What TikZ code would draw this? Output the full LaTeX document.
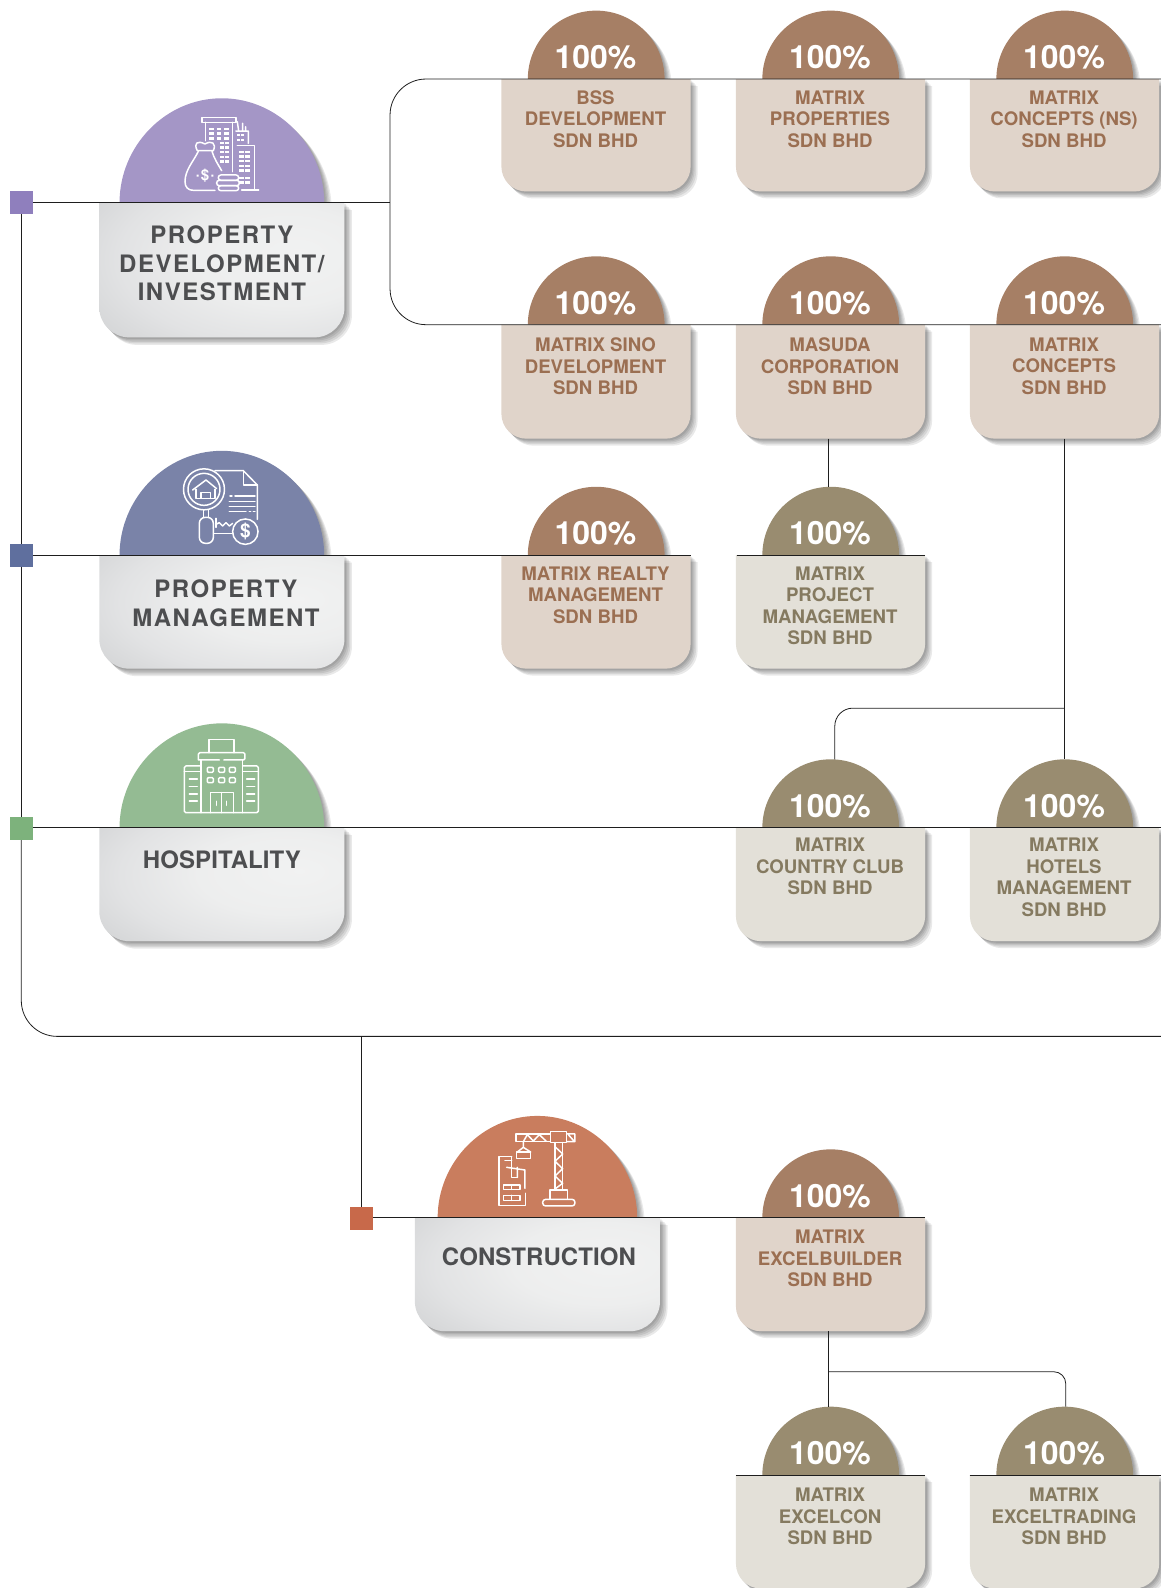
\documentclass[tikz,border=0pt]{standalone}
\usepackage{fontspec}
\setmainfont{TeX Gyre Heros}
\newfontfamily\trackwide[LetterSpace=6.3]{TeX Gyre Heros}
\newfontfamily\tracknarrow[LetterSpace=0.4]{TeX Gyre Heros}
\usetikzlibrary{calc}
\definecolor{domeBrown}{HTML}{A67F65}
\definecolor{domeOlive}{HTML}{998C70}
\definecolor{boxBrown}{HTML}{E0D4CA}
\definecolor{boxOlive}{HTML}{E3E0D8}
\definecolor{txtBrown}{HTML}{9B6F52}
\definecolor{txtOlive}{HTML}{857A60}
\definecolor{domePurple}{HTML}{A496C6}
\definecolor{domeSlate}{HTML}{7A83A8}
\definecolor{domeGreen}{HTML}{94BB93}
\definecolor{domeOrange}{HTML}{C97D5E}
\definecolor{sqPurple}{HTML}{8F7FBD}
\definecolor{sqSlate}{HTML}{5F6F9E}
\definecolor{sqGreen}{HTML}{7DB27C}
\definecolor{sqOrange}{HTML}{C8694A}
\definecolor{bigText}{HTML}{4D4E50}
\definecolor{lineCol}{HTML}{1E1E1E}
\pgfdeclareradialshading{cardshade}{\pgfpoint{16bp}{6bp}}{rgb(0bp)=(0.945,0.948,0.948); rgb(18bp)=(0.93,0.933,0.933); rgb(32bp)=(0.885,0.888,0.893); rgb(44bp)=(0.825,0.83,0.835); rgb(52bp)=(0.80,0.805,0.815); rgb(100bp)=(0.80,0.805,0.815)}
\tikzset{
  conn/.style={draw=lineCol,line width=0.8pt},
  sqnode/.style={minimum size=23pt,inner sep=0pt,outer sep=0pt,draw=none},
  cardtext/.style={anchor=north,align=center,inner sep=0pt,font=\bfseries\fontsize{18.65}{21.4}\selectfont},
  pct/.style={anchor=base,inner sep=0pt,text=white,font=\bfseries\fontsize{32}{32}\selectfont},
  bigtext/.style={anchor=north,align=center,inner sep=0pt,text=bigText},
  bigwide/.style={bigtext,font=\bfseries\trackwide\fontsize{24}{28.8}\selectfont},
  bignarrow/.style={bigtext,font=\bfseries\tracknarrow\fontsize{24}{28.8}\selectfont},
  ico/.style={draw=white,line width=1.5pt,line cap=round,line join=round},
}
% small card: name, cx, line y, bottom y, dome colour, box colour, text colour, first-line centre, text
\newcommand{\card}[9]{%
  \pgfmathsetmacro{\bl}{#2-93.6}\pgfmathsetmacro{\br}{#2+93.2}%
  \pgfmathsetmacro{\dl}{#2-67.5}\pgfmathsetmacro{\dr}{#2+67.5}%
  \pgfmathsetmacro{\dk}{0.5523*67.5}\pgfmathsetmacro{\dt}{#3-67.5}%
  \foreach \s in {7,5.5,4,2.8,1.6}{%
    \fill[black,opacity=.085,shift={(\s pt,-\s pt)}] (\dl,#3) .. controls (\dl,#3-\dk) and (#2-\dk,\dt) .. (#2,\dt) .. controls (#2+\dk,\dt) and (\dr,#3-\dk) .. (\dr,#3) -- cycle;
    \fill[black,opacity=.085,shift={(\s pt,-\s pt)}] (\bl,#3) -- (\br,#3) [rounded corners=25pt] -- (\br,#4) -- (\bl,#4) [sharp corners] -- cycle;}
  \fill[#5] (\dl,#3) .. controls (\dl,#3-\dk) and (#2-\dk,\dt) .. (#2,\dt) .. controls (#2+\dk,\dt) and (\dr,#3-\dk) .. (\dr,#3) -- cycle;
  \fill[#6] (\bl,#3) -- (\br,#3) [rounded corners=25pt] -- (\br,#4) -- (\bl,#4) [sharp corners] -- cycle;
  \coordinate (#1 top) at (#2,\dt);
  \coordinate (#1 bottom) at (#2,#4);
  \node[pct] (#1 pct) at (#2-0.7,#3-10.5) {100\%};
  \node[cardtext,text=#7] (#1) at (#2-0.7,#8-6.7) {#9};
}
% big card: name, cx, line y, bottom y, dome colour, text style, text cx, first line centre, text; dome half-width in \domehw
\newcommand{\domehw}{101}
\newcommand{\bigcard}[9]{%
  \pgfmathsetmacro{\bl}{#2-121}\pgfmathsetmacro{\br}{#2+121}%
  \pgfmathsetmacro{\dl}{#2-\domehw}\pgfmathsetmacro{\dr}{#2+\domehw}%
  \pgfmathsetmacro{\dk}{0.5523*\domehw}\pgfmathsetmacro{\dt}{#3-\domehw-2}%
  \foreach \s in {7.5,6,4.5,3,1.6}{%
    \fill[black,opacity=.085,shift={(\s pt,-\s pt)}] (\dl,#3) .. controls (\dl,#3-\dk) and (#2-\dk,\dt) .. (#2,\dt) .. controls (#2+\dk,\dt) and (\dr,#3-\dk) .. (\dr,#3) -- cycle;
    \fill[black,opacity=.085,shift={(\s pt,-\s pt)}] (\bl,#3) -- (\br,#3) [rounded corners=30pt] -- (\br,#4) -- (\bl,#4) [sharp corners] -- cycle;}
  \fill[#5] (\dl,#3) .. controls (\dl,#3-\dk) and (#2-\dk,\dt) .. (#2,\dt) .. controls (#2+\dk,\dt) and (\dr,#3-\dk) .. (\dr,#3) -- cycle;
  \shade[shading=cardshade] (\bl,#3) -- (\br,#3) [rounded corners=30pt] -- (\br,#4) -- (\bl,#4) [sharp corners] -- cycle;
  \node[#6] (#1) at (#7,#8-8.6) {#9};
}
\begin{document}
\begin{tikzpicture}[x=1.01309pt,y=-1.01309pt]
\useasboundingbox (0,0) rectangle (1146,1567.5);
% cards
\card{bss}{588.5}{78}{189}{domeBrown}{boxBrown}{txtBrown}{96}{BSS\\DEVELOPMENT\\SDN BHD}
\card{mprop}{820}{78}{189}{domeBrown}{boxBrown}{txtBrown}{96}{MATRIX\\PROPERTIES\\SDN BHD}
\card{mcns}{1051}{78}{189}{domeBrown}{boxBrown}{txtBrown}{96}{MATRIX\\CONCEPTS (NS)\\SDN BHD}
\card{sino}{588.5}{320.5}{433}{domeBrown}{boxBrown}{txtBrown}{340}{MATRIX SINO\\DEVELOPMENT\\SDN BHD}
\card{masuda}{820}{320.5}{433}{domeBrown}{boxBrown}{txtBrown}{340}{MASUDA\\CORPORATION\\SDN BHD}
\card{mc}{1051}{320.5}{433}{domeBrown}{boxBrown}{txtBrown}{340}{MATRIX\\CONCEPTS\\SDN BHD}
\card{realty}{588.5}{548}{660}{domeBrown}{boxBrown}{txtBrown}{566}{MATRIX REALTY\\MANAGEMENT\\SDN BHD}
\card{mpm}{820}{548}{660}{domeOlive}{boxOlive}{txtOlive}{566}{MATRIX\\PROJECT\\MANAGEMENT\\SDN BHD}
\card{country}{820}{817}{929}{domeOlive}{boxOlive}{txtOlive}{834}{MATRIX\\COUNTRY CLUB\\SDN BHD}
\card{hotels}{1051}{817}{929}{domeOlive}{boxOlive}{txtOlive}{834}{MATRIX\\HOTELS\\MANAGEMENT\\SDN BHD}
\card{excelb}{820}{1202}{1314}{domeBrown}{boxBrown}{txtBrown}{1221}{MATRIX\\EXCELBUILDER\\SDN BHD}
\card{excelc}{820}{1456}{1568}{domeOlive}{boxOlive}{txtOlive}{1475.5}{MATRIX\\EXCELCON\\SDN BHD}
\card{excelt}{1051}{1456}{1568}{domeOlive}{boxOlive}{txtOlive}{1475.5}{MATRIX\\EXCELTRADING\\SDN BHD}
% big cards
\bigcard{propdev}{219}{200}{333}{domePurple}{bigwide}{219}{231}{PROPERTY\\DEVELOPMENT/\\INVESTMENT}
\bigcard{propman}{219}{548}{660}{domeSlate}{bigwide}{223}{581}{PROPERTY\\MANAGEMENT}
\bigcard{hosp}{219}{817}{929}{domeGreen}{bignarrow}{219}{848.5}{HOSPITALITY}
\renewcommand{\domehw}{98.5}
\bigcard{constr}{530.5}{1202}{1314}{domeOrange}{bignarrow}{532}{1240}{CONSTRUCTION}
% squares
\node[sqnode,fill=sqPurple] (sq1) at (21,200) {};
\node[sqnode,fill=sqSlate] (sq2) at (21,548) {};
\node[sqnode,fill=sqGreen] (sq3) at (21,818) {};
\node[sqnode,fill=sqOrange] (sq4) at (357,1203) {};
% junctions
\coordinate (j1) at (385,200);
\coordinate (j1t) at (385,78);
\coordinate (j1b) at (385,320.5);
\coordinate (e1) at (1146,78);
\coordinate (e2) at (1146,320.5);
\coordinate (e3) at (682,548);
\coordinate (m1) at (727,548);
\coordinate (m2) at (913.5,548);
\coordinate (e4) at (1146,817);
\coordinate (corner) at (21,1023);
\coordinate (e5) at (1146,1023);
\coordinate (j2) at (357,1023);
\coordinate (e6) at (913,1202);
\coordinate (l1) at (726.5,1456);
\coordinate (l2) at (913.5,1456);
\coordinate (l3) at (957,1456);
\coordinate (l4) at (1146,1456);
\coordinate (j3) at (1051,699);
\coordinate (j3c) at ($(country top)+(4,0)$);
\coordinate (j4) at (818,1354);
\coordinate (j4c) at ($(excelt top)+(1,0)$);
% connectors
\draw[conn] (sq1.east) -- (j1);
\draw[conn,rounded corners=36pt] (e1) -- (j1t) -- (j1b) -- (e2);
\draw[conn] (sq2.east) -- (e3);
\draw[conn] (m1) -- (m2);
\draw[conn] (sq3.east |- e4) -- (e4);
\draw[conn] (sq1.south) -- (sq2.north);
\draw[conn] (sq2.south) -- (sq3.north);
\draw[conn,rounded corners=36pt] (sq3.south) -- (corner) -- (e5);
\draw[conn] (j2) -- (sq4.north);
\draw[conn] (sq4.east |- e6) -- (e6);
\draw[conn] (l1) -- (l2);
\draw[conn] (l3) -- (l4);
\draw[conn] ($(masuda bottom)+(-2,0)$) -- ($(mpm top)+(-2,0)$);
\draw[conn] (mc bottom) -- (hotels top);
\draw[conn,rounded corners=18pt] (j3) -- (j3 -| j3c) -- (j3c);
\draw[conn] ($(excelb bottom)+(-2,0)$) -- ($(excelc top)+(-2,0)$);
\draw[conn,rounded corners=12pt] (j4) -- (j4 -| j4c) -- (j4c);
% ---- icon: property development (zoom frame origin 0,80)
\begin{scope}[shift={(0pt,-80pt)},x=.33333pt,y=-.33333pt]
 \draw[ico] (606,112) rectangle (708,127);
 \draw[ico] (616,127) -- (616,182) (698,127) -- (698,275);
 \foreach \yy in {143,157,171}{\foreach \xx in {628,650,672}{\fill[white] (\xx,\yy) rectangle ++(14,8);}}
 \foreach \yy in {185,199,213,227,241}{\foreach \xx in {660,676}{\fill[white] (\xx,\yy) rectangle ++(12,7);}}
 \draw[ico] (708,153) -- (745,153) -- (745,190) (712,125) -- (716,153) (728,130) -- (728,153) (737,140) -- (737,153);
 \foreach \yy in {162,177}{\foreach \xx in {712,724}{\fill[white] (\xx,\yy) rectangle ++(8,7);}}
 \draw[ico] (712,197) -- (763,197) -- (763,330) (725,330) -- (776,330);
 \foreach \yy in {212,226,240,254,268,290,304}{\foreach \xx in {718,736}{\fill[white] (\xx,\yy) rectangle ++(14,7);}}
 \draw[ico] (592,212) .. controls (580,190) and (592,180) .. (615,192) .. controls (635,180) and (650,190) .. (640,212) -- cycle;
 \draw[ico] (595,214) .. controls (580,245) and (555,270) .. (555,305) .. controls (555,322) and (565,331) .. (580,331) -- (645,331);
 \draw[ico] (636,214) .. controls (642,235) and (655,255) .. (665,272);
 \node[inner sep=0pt,text=white,font=\bfseries\fontsize{15}{15}\selectfont] (bagdollar) at (615,288) {\$};
 \fill[white] (590,284) rectangle ++(6,6) (634,284) rectangle ++(6,6);
 \draw[ico,rounded corners=2.5pt] (655,285) rectangle (716,301);
 \draw[ico,rounded corners=2.5pt] (650,301) rectangle (718,317);
 \draw[ico,rounded corners=2.5pt] (655,317) rectangle (716,332);
\end{scope}
% ---- icon: property management (origin 100,430)
\begin{scope}[shift={(100pt,-430pt)},x=.33333pt,y=-.33333pt]
 \draw[ico] (312,178) circle[radius=20.5pt];
 \draw[ico] (312,178) circle[radius=16pt];
 \draw[ico] (278,180) -- (318,150) -- (350,176);
 \draw[ico] (288,178) -- (288,205) -- (345,205) -- (345,178);
 \draw[ico] (303,205) -- (303,188) -- (332,188) -- (332,205);
 \draw[ico] (310,240) -- (310,262) (326,240) -- (326,262);
 \draw[ico,rounded corners=6pt] (298,262) rectangle (340,340);
 \draw[ico] (345,122) -- (430,122) -- (472,165) -- (472,268);
 \draw[ico] (430,122) -- (430,165) -- (472,165);
 \draw[ico] (390,198) -- (396,198) (405,198) -- (465,198);
 \draw[ico] (388,215) -- (465,215) (388,230) -- (465,230) (388,245) -- (438,245) (448,245) -- (452,245) (460,245) -- (465,245);
 \draw[ico] (348,265) -- (348,292);
 \draw[ico] (350,282) -- (358,278) -- (368,288) -- (378,278) -- (388,288) -- (398,280);
 \draw[ico] (342,310) -- (396,310);
 \draw[ico] (436,305) circle[radius=12.7pt];
 \node[inner sep=0pt,text=white,font=\bfseries\fontsize{19}{19}\selectfont] (mgmtdollar) at (436,305) {\$};
\end{scope}
% ---- icon: hospitality (origin 100,710)
\begin{scope}[shift={(100pt,-710pt)},x=.33333pt,y=-.33333pt]
 \draw[ico] (327,128) -- (327,88) -- (402,88) -- (402,128);
 \draw[ico,rounded corners=1.5pt] (295,150) -- (295,128) -- (435,128) -- (435,150) -- (372,150) (358,150) -- (295,150);
 \draw[ico] (303,150) -- (303,308) (428,150) -- (428,308);
 \foreach \xx in {322,356,388}{\foreach \yy in {172,203}{\draw[ico,rounded corners=1pt] (\xx,\yy) rectangle ++(18,15);}}
 \draw[ico] (331,308) -- (331,248) -- (400,248) -- (400,308) (365,248) -- (365,308);
 \draw[ico] (350,274) -- (350,286) (380,274) -- (380,286);
 \draw[ico,rounded corners=1.5pt] (303,168) -- (253,168) -- (253,308) -- (475,308) -- (475,168) -- (428,168);
 \draw[ico] (253,185) -- (303,185) (428,185) -- (475,185);
 \foreach \yy in {207,230,252,273}{\draw[ico] (268,\yy) -- (292,\yy) (440,\yy) -- (464,\yy);}
\end{scope}
% ---- icon: construction (origin 420,1090)
\begin{scope}[shift={(420pt,-1090pt)},x=.33333pt,y=-.33333pt]
 \draw[ico] (288,132) rectangle (392,155);
 \draw[ico] (310,155) -- (322,134) -- (340,153) -- (358,134) -- (378,153);
 \draw[ico] (392,125) rectangle (440,158);
 \draw[ico] (440,132) -- (465,132) -- (465,155) -- (440,155) (445,134) -- (462,153);
 \draw[ico] (405,158) -- (405,297) (428,158) -- (428,297);
 \draw[ico] (405,170) -- (428,192) -- (405,214) -- (428,236) -- (405,258) -- (428,280) -- (405,297);
 \draw[ico] (390,326) -- (390,300) -- (442,300) -- (442,326);
 \draw[ico,rounded corners=3pt] (368,328) rectangle (465,348);
 \draw[ico] (310,155) -- (310,172) -- (292,186) -- (332,186) -- (310,172);
 \draw[ico] (290,186) rectangle (332,205);
 \draw[ico] (275,200) -- (237,200) -- (237,347) -- (317,347) -- (317,310);
 \draw[ico] (255,212) -- (275,212) (275,200) -- (275,262) -- (292,262);
 \draw[ico] (260,232) -- (315,240) (292,232) -- (292,262) (315,240) -- (315,295);
 \draw[ico] (250,285) rectangle (300,298) (275,285) -- (275,298);
 \draw[ico] (250,316) rectangle (300,331) (275,316) -- (275,331);
\end{scope}
\end{tikzpicture}
\end{document}
